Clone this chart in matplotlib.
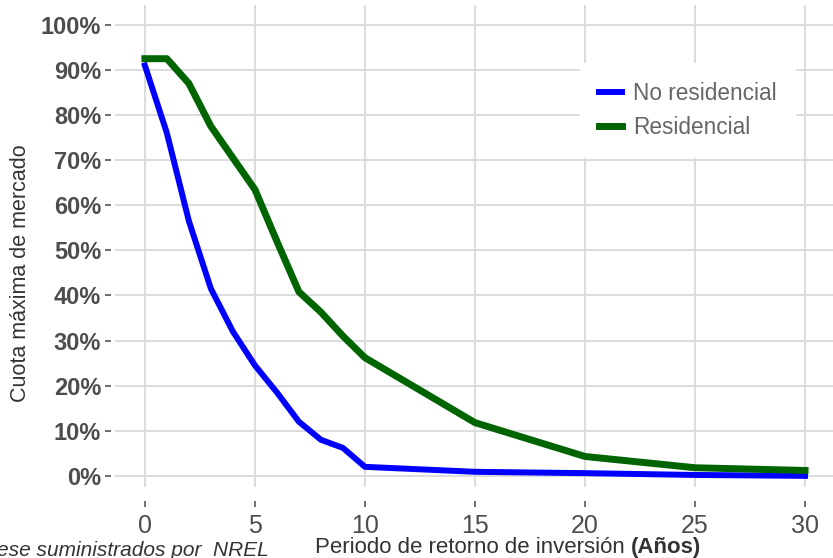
import matplotlib
matplotlib.use("Agg")
import matplotlib.pyplot as plt
from matplotlib.ticker import FuncFormatter

plt.rcParams['font.family'] = ['Liberation Sans', 'DejaVu Sans']

# periodo de retorno (años)
anios = [0, 1, 2, 3, 4, 5, 6, 7, 8, 9, 10, 15, 20, 25, 30]
# cuota maxima de mercado (%)
no_residencial = [91, 76, 56.5, 41.5, 32, 24.5, 18.5, 12, 8, 6.2, 2, 0.9, 0.6, 0.2, 0]
residencial = [92.5, 92.5, 87, 77.5, 70.5, 63.5, 52, 40.8, 36.3, 31, 26.2, 11.8, 4.3, 1.8, 1.2]

xticks = [0, 5, 10, 15, 20, 25, 30]
yticks = [0, 10, 20, 30, 40, 50, 60, 70, 80, 90, 100]

fig = plt.figure(figsize=(8.33, 5.58), dpi=100)
ax = fig.add_axes([0.138, 0.127, 0.862, 0.864])

ax.plot(anios, no_residencial, color='#0000ff', lw=4.3, label='No residencial',
        solid_joinstyle='round', zorder=3)
ax.plot(anios, residencial, color='#006400', lw=5, label='Residencial',
        solid_joinstyle='round', zorder=3)

ax.set_xlim(-1.36, 31.27)
ax.set_ylim(-2.5, 104.4)
ax.set_xticks(xticks)
ax.set_yticks(yticks)
ax.yaxis.set_major_formatter(FuncFormatter(lambda v, p: '%d%%' % v))

ax.grid(True, color='#d9d9d9', lw=1.3)
ax.set_axisbelow(True)
for s in ax.spines.values():
    s.set_visible(False)
ax.spines['bottom'].set_position(('outward', 10))
ax.spines['left'].set_position(('outward', 3))

ax.tick_params(axis='x', length=4, width=1.2, color='#555555', pad=5,
               labelsize=18, labelcolor='#4d4d4d')
ax.tick_params(axis='y', length=4, width=1.2, color='#555555', pad=3,
               labelsize=17, labelcolor='#4d4d4d')
for t in ax.get_yticklabels():
    t.set_fontweight('bold')

fig.text(0.025, 0.511, 'Cuota máxima de mercado', rotation=90, ha='center',
         va='center', fontsize=15.5, color='#333333')

xl = fig.text(0.378, 0.009, 'Periodo de retorno de inversión ', ha='left',
              va='baseline', fontsize=16, color='#333333')
ax.annotate('(Años)', xy=(1, 0), xycoords=xl, ha='left', va='bottom',
            fontsize=16, fontweight='bold', color='#333333')

fig.text(-0.004, 0.004, 'ese suministrados por  NREL', ha='left', va='baseline',
         fontsize=15, style='italic', color='#333333')

leg = ax.legend(loc='upper left', bbox_to_anchor=(0.632, 0.903), frameon=True,
                facecolor='white', edgecolor='none', framealpha=1,
                fontsize=16.3, handlelength=1.0, handletextpad=0.5,
                labelspacing=0.45, borderpad=0.85)
for t in leg.get_texts():
    t.set_color('#666666')

fig.savefig('out.png', dpi=100)
